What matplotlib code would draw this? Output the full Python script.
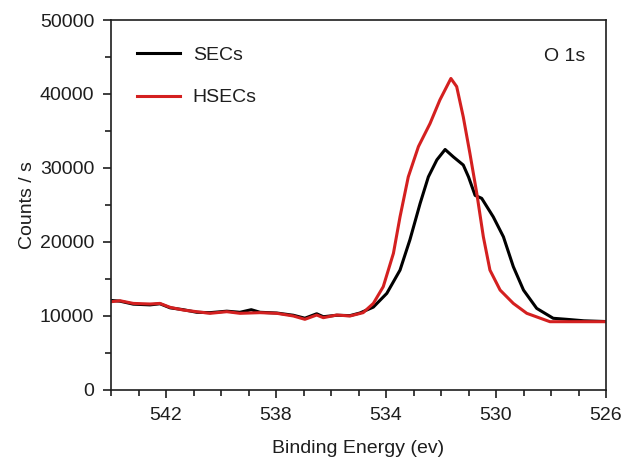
import numpy as np
import matplotlib
matplotlib.use("Agg")
import matplotlib.pyplot as plt
from matplotlib.ticker import MultipleLocator

plt.rcParams['font.family'] = ['Liberation Sans', 'DejaVu Sans']

# O 1s spectra (binding energy in eV, counts/s)
secs_energy = [544.0, 543.67, 543.19, 542.58, 542.22, 541.85, 541.37, 540.88, 540.4,
               539.79, 539.31, 538.9, 538.58, 537.97, 537.37, 536.95, 536.52, 536.28,
               535.79, 535.31, 534.95, 534.46, 533.97, 533.49, 533.13, 532.76, 532.46,
               532.15, 531.85, 531.55, 531.19, 531.0, 530.76, 530.52, 530.1, 529.73,
               529.37, 529.0, 528.52, 527.92, 527.43, 526.8, 526.0]
secs_counts = [12100, 12000, 11600, 11500, 11650, 11100, 10850, 10500, 10450,
               10650, 10500, 10850, 10500, 10400, 10100, 9700, 10300, 9900,
               10100, 10050, 10400, 11200, 13060, 16200, 20300, 25200, 28800,
               31100, 32500, 31500, 30400, 28800, 26300, 25900, 23400, 20700,
               16660, 13500, 11030, 9690, 9550, 9350, 9250]

hsecs_energy = [544.0, 543.67, 543.19, 542.58, 542.22, 541.85, 541.37, 540.88, 540.4,
                539.79, 539.31, 538.58, 537.97, 537.37, 536.95, 536.52, 536.28,
                535.79, 535.31, 534.83, 534.46, 534.1, 533.73, 533.49, 533.19, 532.82,
                532.4, 532.04, 531.64, 531.43, 531.19, 530.95, 530.7, 530.46, 530.22,
                529.85, 529.37, 528.88, 528.04, 527.19, 526.0]
hsecs_counts = [11930, 12060, 11700, 11620, 11700, 11170, 10800, 10580, 10360,
                10580, 10360, 10450, 10360, 10000, 9550, 10130, 9770,
                10130, 10000, 10450, 11700, 13960, 18470, 23400, 28800, 32900,
                36000, 39200, 42100, 41000, 36900, 32000, 26600, 20700, 16200,
                13500, 11700, 10360, 9230, 9230, 9230]

ink = '#1e1e1e'
fs = 14

fig = plt.figure(figsize=(6.25, 4.63), dpi=100)
ax = fig.add_axes([0.1776, 0.1577, 0.7920, 0.7991])

ax.plot(secs_energy, secs_counts, color='black', lw=2.2, label='SECs')
ax.plot(hsecs_energy, hsecs_counts, color='#d42020', lw=2.2, label='HSECs')

ax.set_xlim(544, 526)
ax.set_ylim(0, 50000)
ax.xaxis.set_major_locator(MultipleLocator(4, offset=2))
ax.xaxis.set_minor_locator(MultipleLocator(1))
ax.yaxis.set_major_locator(MultipleLocator(10000))
ax.yaxis.set_minor_locator(MultipleLocator(5000))
ax.tick_params(which='both', direction='out', labelsize=fs, color=ink,
               labelcolor=ink, top=False, right=False, width=1.2)
ax.tick_params(which='major', length=6, pad=6)
ax.tick_params(which='minor', length=4)
for s in ax.spines.values():
    s.set_linewidth(1.2)
    s.set_color(ink)

ax.set_xlabel('Binding Energy (ev)', fontsize=fs, color=ink, labelpad=12)
ax.set_ylabel('Counts / s', fontsize=fs, color=ink, labelpad=3)

ax.text(0.917, 0.90, 'O 1s', transform=ax.transAxes, fontsize=fs,
        color=ink, ha='center', va='center')

leg = ax.legend(loc='upper left', bbox_to_anchor=(0.0525, 0.93), frameon=False,
                fontsize=fs, handlelength=2.2, handletextpad=0.67,
                labelspacing=1.3, borderaxespad=0.0, borderpad=0.0)
for t in leg.get_texts():
    t.set_color(ink)

fig.savefig('out.png', dpi=100)
